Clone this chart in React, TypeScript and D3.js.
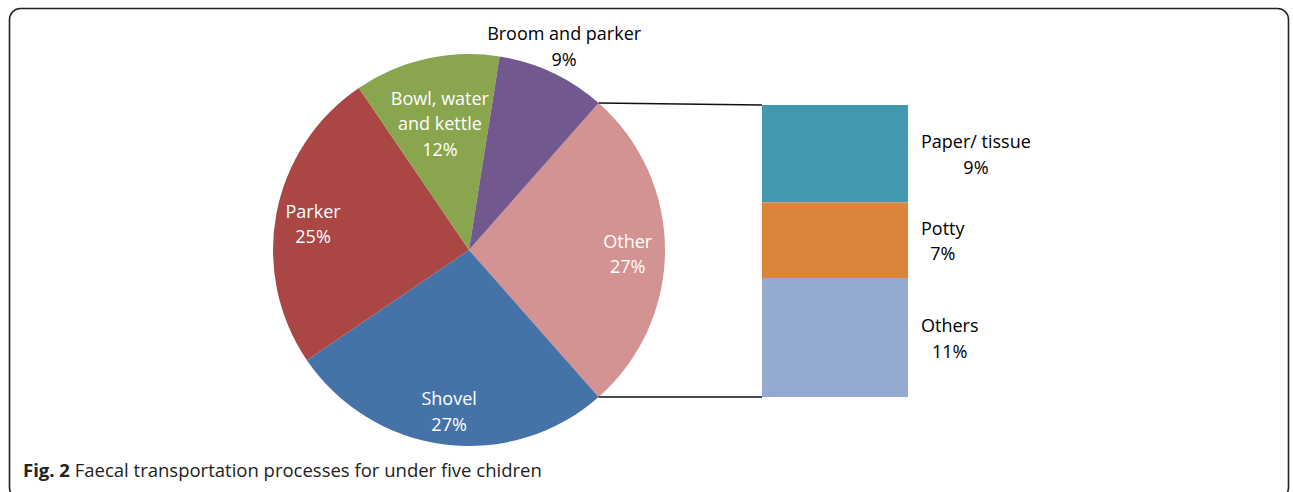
import React from "react";
import * as d3 from "d3";

// pie slices, clockwise starting with the one that gets broken out
const pieLabels = ["Other", "Shovel", "Parker", "Bowl, water|and kettle", "Broom and parker"];
const pieValues = [27, 27, 25, 12, 9];
const pieColors = ["#D39392", "#4573A7", "#AA4644", "#89A54E", "#71588F"];

// breakdown of "Other"
const barLabels = ["Paper/ tissue", "Potty", "Others"];
const barValues = [9, 7, 11];
const barColors = ["#4198AF", "#DB843C", "#93A9CF"];

const captionBold = "Fig. 2";
const captionText = " Faecal transportation processes for under five chidren";

const W = 1293;
const H = 492;
const FONT = "'Open Sans', sans-serif";

const App = () => {
  const svgRef = React.useRef<SVGSVGElement>(null);

  React.useEffect(() => {
    const svg = d3.select(svgRef.current);
    svg.selectAll("*").remove();

    // frame
    svg.append("rect")
      .attr("x", 9.5).attr("y", 8.5)
      .attr("width", 1279).attr("height", 490)
      .attr("rx", 11)
      .attr("fill", "none")
      .attr("stroke", "#222")
      .attr("stroke-width", 1.6);

    const cx = 469, cy = 250, r = 196;
    const total = d3.sum(pieValues);
    const start = Math.PI / 2 - (pieValues[0] / total) * Math.PI;

    const pie = d3.pie<number>().sort(null).value(d => d)
      .startAngle(start).endAngle(start + 2 * Math.PI);
    const arcs = pie(pieValues);
    const arc = d3.arc<d3.PieArcDatum<number>>().innerRadius(0).outerRadius(r);

    const g = svg.append("g").attr("transform", `translate(${cx},${cy})`);
    g.selectAll("path")
      .data(arcs)
      .join("path")
      .attr("d", arc)
      .attr("fill", (d, i) => pieColors[i]);

    // bar of pie
    const barX = 762, barW = 146;
    const y = d3.scaleLinear()
      .domain([0, d3.sum(barValues)])
      .range([105, 397]);
    const cum = d3.cumsum(barValues);
    const bar = svg.append("g");
    barValues.forEach((v, i) => {
      const y0 = y(cum[i] - v), y1 = y(cum[i]);
      bar.append("rect")
        .attr("x", barX).attr("y", y0)
        .attr("width", barW).attr("height", y1 - y0)
        .attr("fill", barColors[i]);
    });

    // connector lines from the "Other" slice edges to the bar corners
    const other = arcs[0];
    const pt = (a: number) => [cx + r * Math.sin(a), cy - r * Math.cos(a)];
    const [ax, ay] = pt(other.startAngle);
    const [bx, by] = pt(other.endAngle);
    svg.append("line")
      .attr("x1", ax).attr("y1", ay).attr("x2", barX).attr("y2", y(0))
      .attr("stroke", "#111").attr("stroke-width", 1.5);
    svg.append("line")
      .attr("x1", bx).attr("y1", by).attr("x2", barX).attr("y2", y(d3.sum(barValues)))
      .attr("stroke", "#111").attr("stroke-width", 1.5);

    const lineH = 25.5;
    const addLabel = (x: number, yc: number, lines: string[], color: string, anchor = "middle") => {
      const t = svg.append("text")
        .attr("font-family", FONT)
        .attr("font-size", 18)
        .attr("fill", color)
        .attr("text-anchor", "middle");
      const top = yc - ((lines.length - 1) * lineH) / 2;
      lines.forEach((s, i) => {
        t.append("tspan")
          .attr("x", x)
          .attr("y", top + i * lineH)
          .attr("dy", "0.35em")
          .text(s);
      });
      if (anchor === "start") {
        // excel centers the lines within the block, block begins at x
        let w = 0;
        t.selectAll<SVGTSpanElement, unknown>("tspan").each(function () {
          w = Math.max(w, this.getComputedTextLength());
        });
        t.selectAll("tspan").attr("x", x + w / 2);
      }
    };

    // pie labels
    arcs.forEach((d, i) => {
      const frac = d.value / total;
      const mid = (d.startAngle + d.endAngle) / 2;
      const k = frac < 0.1 ? 1.14 : frac < 0.15 ? 0.68 : 0.81;
      const lx = cx + k * r * Math.sin(mid);
      const ly = cy - k * r * Math.cos(mid) + (frac < 0.1 ? -1 : 4);
      const lines = [...pieLabels[i].split("|"), `${pieValues[i]}%`];
      addLabel(lx, ly, lines, frac < 0.1 ? "#000" : "#fff");
    });

    // bar labels
    barValues.forEach((v, i) => {
      const yc = (y(cum[i] - v) + y(cum[i])) / 2;
      addLabel(barX + barW + 13, yc + 1, [barLabels[i], `${v}%`], "#000", "start");
    });

    // caption
    const cap = svg.append("text")
      .attr("x", 23).attr("y", 477)
      .attr("font-family", FONT)
      .attr("font-size", 18.5)
      .attr("fill", "#222");
    cap.append("tspan").attr("font-weight", "bold").text(captionBold);
    cap.append("tspan").text(captionText);
  }, []);

  return (
    <svg
      ref={svgRef}
      width={W}
      height={H}
      style={{ position: "absolute", left: 0, top: 0, background: "#fff" }}
    />
  );
};

export default App;
